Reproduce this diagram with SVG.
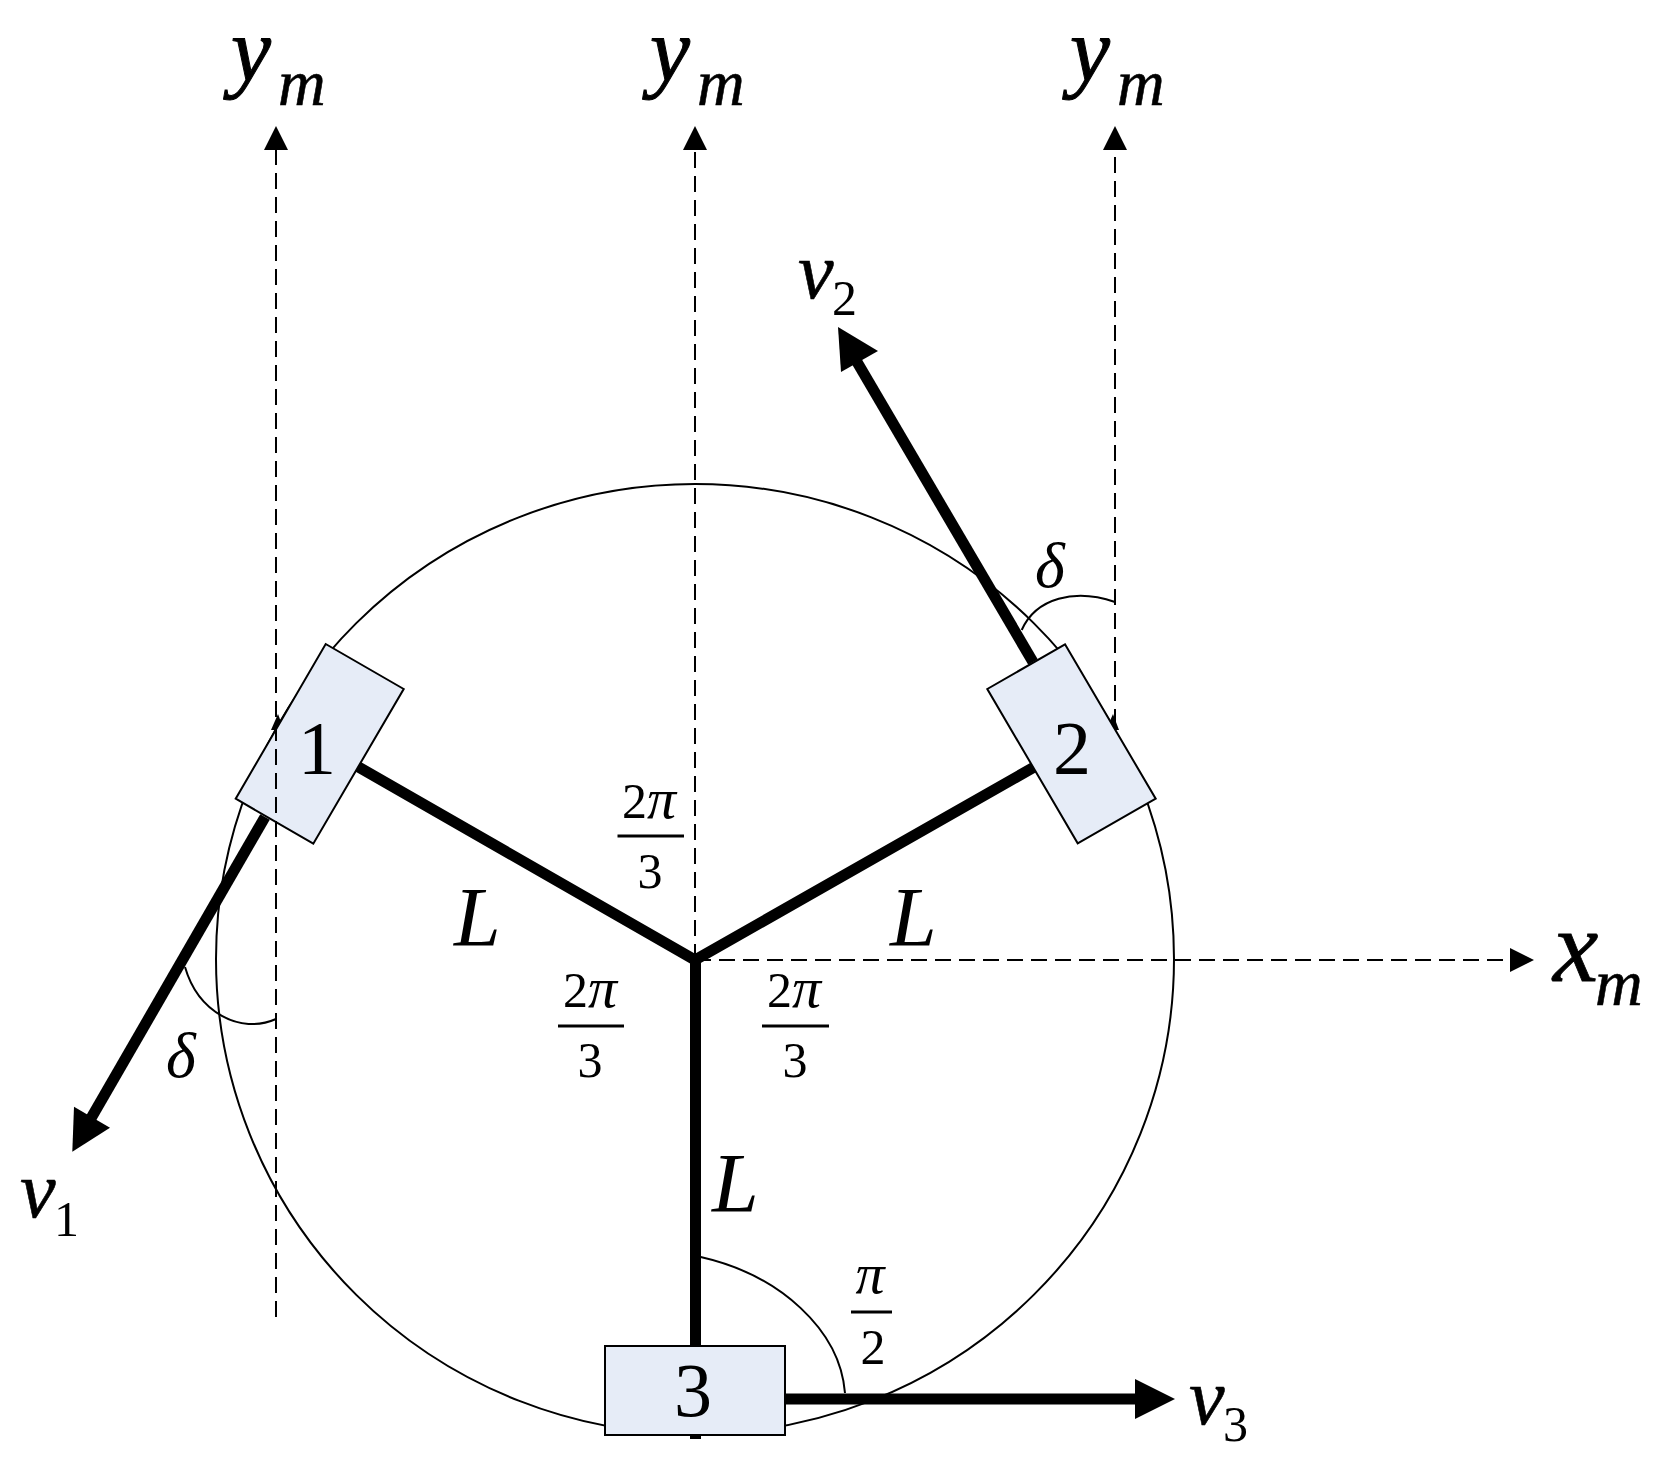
<svg xmlns="http://www.w3.org/2000/svg" width="1663" height="1483" viewBox="0 0 1663 1483">
<style>
text{font-family:"Liberation Serif","Times New Roman",serif;fill:#000}
.i{font-style:italic}
.big{font-size:102px;stroke:#000;stroke-width:.8}
.y{font-size:90px;stroke:#000;stroke-width:1}
.sub{font-size:66px;stroke:#000;stroke-width:.6}
.v{font-size:80px;stroke:#000;stroke-width:.6}
.n{font-size:50px}
.p{font-size:58px}
.d{font-size:64px}
.L{font-size:84px}
.box{font-size:76px;text-anchor:middle}
.m{text-anchor:middle}
.dash{fill:none;stroke:#000;stroke-width:2;stroke-dasharray:16 8}
.thin{fill:none;stroke:#000;stroke-width:2}
.thick{fill:none;stroke:#000;stroke-width:11}
.bar{stroke:#000;stroke-width:3}
.node{fill:#e6ecf7;stroke:#000;stroke-width:2}
</style>
<defs>
<marker id="small" markerUnits="userSpaceOnUse" markerWidth="26" markerHeight="26" refX="0" refY="12" orient="auto"><path d="M0 0L24 12L0 24Z" fill="#000"/></marker>
</defs>
<rect width="1663" height="1483" fill="#fff"/>
<ellipse id="wheel-circle" cx="695" cy="959" rx="479" ry="475" class="thin"/>
<g id="connectors">
<path class="dash" d="M695 960V150" marker-end="url(#small)"/>
<path class="dash" d="M1115 725V150" marker-end="url(#small)"/>
<path class="dash" d="M695 960H1510" marker-end="url(#small)"/>
<path d="M278 714L271 730L284 730Z" fill="#000"/>
<path d="M1113 714L1106 730L1119 730Z" fill="#000"/>
<path class="thick" d="M695 960L355 765M695 960L1036 766M695.500 960V1439"/>
<path class="thick" d="M265 817L90 1120"/>
<path d="M72.300 1151.700L74 1106.700L110 1127.700Z" fill="#000"/>
<path class="thick" d="M1033 662L850 350"/>
<path d="M838 327L878 351L841 372Z" fill="#000"/>
<path class="thick" d="M785 1399H1140"/>
<path d="M1175 1399L1135 1379V1419Z" fill="#000"/>
<path class="thin" d="M1021.700 630C1036 598 1075 588 1115 602"/>
<path class="thin" d="M185 967C198 1012 240 1035 276 1019"/>
<path class="thin" d="M700.700 1257C780 1275 840 1330 845 1393"/>
</g>
<g id="node-1"><path class="node" d="M325.700 644L403.700 689L313.300 843.700L235.700 798.700Z"/><text class="box" x="317" y="774">1</text></g>
<g id="node-2"><path class="node" d="M1065 644.300L1155.700 798.700L1077.700 843.300L987.300 689Z"/><text class="box" x="1072" y="774">2</text></g>
<g id="node-3"><rect class="node" x="605" y="1346" width="180" height="89"/><text class="box" x="693" y="1416">3</text></g>
<g id="axis-left"><path class="dash" d="M276 1317V150" marker-end="url(#small)"/></g>
<g id="labels">
<text class="i y" x="231" y="81">y</text><text class="i sub" x="278" y="105">m</text>
<text class="i y" x="650" y="81">y</text><text class="i sub" x="697" y="105">m</text>
<text class="i y" x="1070" y="81">y</text><text class="i sub" x="1117" y="105">m</text>
<text class="i big" x="1553" y="981">x</text><text class="i sub" x="1595" y="1005">m</text>
<text class="i v" x="798" y="298">v</text><text class="n" x="832" y="315">2</text>
<text class="i v" x="20" y="1217">v</text><text class="n" x="54" y="1236">1</text>
<text class="i v" x="1189" y="1424">v</text><text class="n" x="1223" y="1441">3</text>
<text class="i d" x="1035" y="587">δ</text>
<text class="i d" x="166" y="1077">δ</text>
<text class="i L" x="454" y="946">L</text>
<text class="i L" x="890" y="946">L</text>
<text class="i L" x="712" y="1212">L</text>
<text class="n" x="622" y="818">2<tspan class="i p">π</tspan></text><path class="bar" d="M617.500 836H684"/><text class="n m" x="650" y="888">3</text>
<text class="n" x="563" y="1007">2<tspan class="i p">π</tspan></text><path class="bar" d="M558 1026H624"/><text class="n m" x="590" y="1077">3</text>
<text class="n" x="767" y="1007">2<tspan class="i p">π</tspan></text><path class="bar" d="M762 1026H829"/><text class="n m" x="795" y="1077">3</text>
<text class="i p m" x="870" y="1293">π</text><path class="bar" d="M851 1312H892"/><text class="n m" x="873" y="1364">2</text>
</g>
</svg>
